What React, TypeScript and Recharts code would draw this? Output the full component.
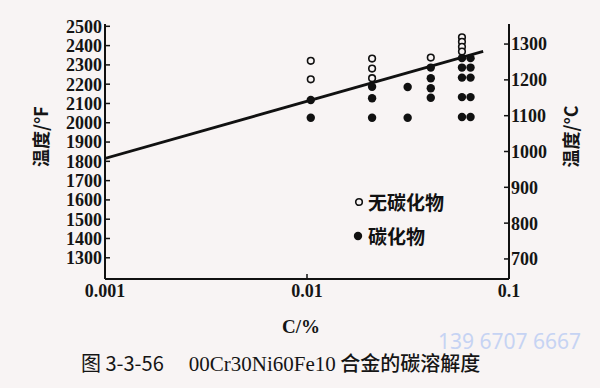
import React from "react";
import {
  ComposedChart,
  Scatter,
  XAxis,
  YAxis,
} from "recharts";

// C content (%) of each sample column
const carbideC = [
  0.01044, 0.01044,
  0.021, 0.021, 0.021,
  0.0315, 0.0315,
  0.041, 0.041, 0.041, 0.041,
  0.0585, 0.0585, 0.0585, 0.0585, 0.0585,
  0.0645, 0.0645, 0.0645, 0.0645, 0.0645,
];
// temperature (°F) of the filled points
const carbideF = [
  2118, 2026,
  2187, 2127, 2026,
  2185, 2026,
  2286, 2231, 2179, 2130,
  2335, 2286, 2234, 2133, 2030,
  2335, 2286, 2234, 2133, 2030,
];

const freeC = [0.01044, 0.01044, 0.021, 0.021, 0.021, 0.041, 0.0585, 0.0585, 0.0585, 0.0585];
const freeF = [2321, 2225, 2333, 2281, 2231, 2338, 2443, 2420, 2394, 2369];

// solubility line end points
const lineC = [0.001, 0.0745];
const lineF = [1815, 2370];

const xTicks = [0.001, 0.01, 0.1];
const fTicks = [1300, 1400, 1500, 1600, 1700, 1800, 1900, 2000, 2100, 2200, 2300, 2400, 2500];
const cTicks = [700, 800, 900, 1000, 1100, 1200, 1300];

const carbideData = carbideC.map((c, i) => ({ c, t: carbideF[i] }));
const freeData = freeC.map((c, i) => ({ c, t: freeF[i] }));
const lineData = lineC.map((c, i) => ({ c, t: lineF[i] }));

const tickFont = {
  fontFamily: "'Liberation Serif', serif",
  fontSize: 18,
  fontWeight: 700,
  fill: "#151515",
};
const cjk = "'Noto Sans CJK SC', sans-serif";

const FilledDot = (p: { cx?: number; cy?: number }) =>
  p.cx == null ? null : <circle cx={p.cx} cy={p.cy} r={4.2} fill="#111" />;

const OpenDot = (p: { cx?: number; cy?: number }) =>
  p.cx == null ? null : (
    <circle cx={p.cx} cy={p.cy} r={3.3} fill="#f8f4f4" stroke="#111" strokeWidth={1.6} />
  );

const NoDot = () => null;

const fmtC = (v: number) => (v === 0.001 ? "0.001" : v === 0.01 ? "0.01" : "0.1");

const axisLabel = (text: string, x: number) => ({
  content: ({ viewBox }: any) => (
    <text
      transform={`translate(${x}, ${viewBox.y + viewBox.height / 2 - 15}) rotate(-90)`}
      textAnchor="middle"
      dominantBaseline="central"
      fontFamily={cjk}
      fontWeight={700}
      fontSize={18}
      fill="#151515"
    >
      {text}
    </text>
  ),
});

export default function App() {
  return (
    <div
      style={{
        position: "absolute",
        left: 0,
        top: 0,
        width: 600,
        height: 388,
        background: "#f8f4f4",
        overflow: "hidden",
      }}
    >
      <ComposedChart
        width={600}
        height={388}
        margin={{ top: 24, right: 0, bottom: 49, left: 0 }}
      >
        <XAxis
          dataKey="c"
          type="number"
          scale="log"
          domain={[0.001, 0.1]}
          ticks={xTicks}
          tickFormatter={fmtC}
          allowDataOverflow
          interval={0}
          height={60}
          tick={tickFont}
          tickSize={-5}
          tickMargin={10}
          axisLine={{ stroke: "#111", strokeWidth: 2 }}
          tickLine={{ stroke: "#111", strokeWidth: 1.5 }}
          label={{
            content: ({ viewBox }: any) => (
              <text
                x={viewBox.x + viewBox.width / 2 - 6}
                y={viewBox.y + 54}
                textAnchor="middle"
                fontFamily="'Liberation Serif', serif"
                fontSize={19}
                fontWeight={700}
                fill="#151515"
              >
                C/%
              </text>
            ),
          }}
        />
        <XAxis
          xAxisId="top"
          orientation="top"
          dataKey="c"
          type="number"
          scale="log"
          domain={[0.001, 0.1]}
          height={0}
          tick={false}
          tickLine={false}
          axisLine={{ stroke: "#111", strokeWidth: 2 }}
        />
        <YAxis
          yAxisId="f"
          dataKey="t"
          type="number"
          domain={[1190, 2512]}
          ticks={fTicks}
          allowDataOverflow
          interval={0}
          width={105}
          tick={tickFont}
          tickSize={-5}
          tickMargin={8}
          axisLine={{ stroke: "#111", strokeWidth: 2 }}
          tickLine={{ stroke: "#111", strokeWidth: 1.5 }}
          label={axisLabel("温度/°F", 40)}
        />
        <YAxis
          yAxisId="c"
          orientation="right"
          type="number"
          domain={[644, 1356]}
          ticks={cTicks}
          allowDataOverflow
          interval={0}
          width={91}
          tick={tickFont}
          tickSize={-5}
          tickMargin={7}
          axisLine={{ stroke: "#111", strokeWidth: 2 }}
          tickLine={{ stroke: "#111", strokeWidth: 1.5 }}
          label={axisLabel("温度/°C", 570)}
        />
        <Scatter
          yAxisId="f"
          data={lineData}
          dataKey="t"
          line={{ stroke: "#111", strokeWidth: 2.8 }}
          shape={<NoDot />}
          isAnimationActive={false}
        />
        <Scatter
          yAxisId="f"
          data={carbideData}
          dataKey="t"
          shape={<FilledDot />}
          isAnimationActive={false}
        />
        <Scatter
          yAxisId="f"
          data={freeData}
          dataKey="t"
          shape={<OpenDot />}
          isAnimationActive={false}
        />
      </ComposedChart>

      {/* legend */}
      <div
        style={{
          position: "absolute",
          left: 352,
          top: 185,
          fontFamily: cjk,
          fontWeight: 700,
          fontSize: 19,
          color: "#111",
          lineHeight: "34px",
        }}
      >
        <div style={{ display: "flex", alignItems: "center" }}>
          <svg width={16} height={12}>
            <circle cx={7} cy={6} r={3.3} fill="none" stroke="#111" strokeWidth={1.6} />
          </svg>
          <span>无碳化物</span>
        </div>
        <div style={{ display: "flex", alignItems: "center" }}>
          <svg width={16} height={12}>
            <circle cx={6} cy={6} r={4.2} fill="#111" />
          </svg>
          <span>碳化物</span>
        </div>
      </div>

      <div
        style={{
          position: "absolute",
          left: 438,
          top: 327,
          fontFamily: "'Noto Sans', sans-serif",
          fontSize: 21,
          color: "#c6d3f3",
          whiteSpace: "nowrap",
        }}
      >
        139 6707 6667
      </div>
      <div
        style={{
          position: "absolute",
          left: 81,
          top: 350,
          fontSize: 20,
          color: "#151515",
          whiteSpace: "nowrap",
          lineHeight: "26px",
        }}
      >
        <span style={{ fontFamily: cjk }}>图 3-3-56</span>
        <span style={{ display: "inline-block", width: 25 }} />
        <span style={{ fontFamily: "'Liberation Serif', serif", fontSize: 21 }}>00Cr30Ni60Fe10</span>
        <span style={{ fontFamily: cjk, fontWeight: 500 }}> 合金的碳溶解度</span>
      </div>
    </div>
  );
}
